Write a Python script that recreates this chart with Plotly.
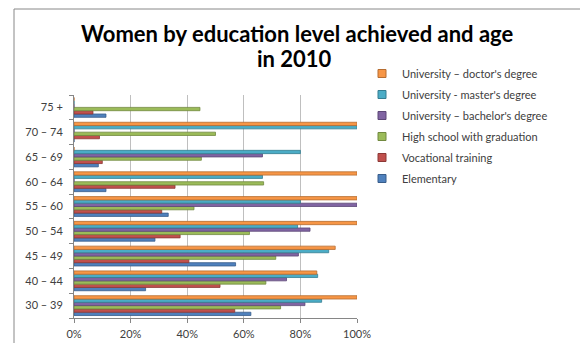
import plotly.graph_objects as go

# Age groups, bottom to top
age_groups = ["30 – 39", "40 – 44", "45 – 49", "50 – 54", "55 – 60",
              "60 – 64", "65 – 69", "70 – 74", "75 +"]

# Share of women (%) per education level, in the same order as age_groups
elementary = [62.5, 25.3, 57.1, 28.6, 33.3, 11.3, 8.6, 0, 11.3]
vocational = [56.8, 51.6, 40.6, 37.5, 31.0, 35.7, 10.0, 9.0, 6.7]
high_school = [73.0, 67.8, 71.3, 62.0, 42.4, 67.0, 45.0, 50.0, 44.5]
bachelor = [81.6, 75.1, 79.3, 83.4, 100, 0, 66.6, 0, 0]
master = [87.5, 86.1, 90.0, 79.0, 80.0, 66.6, 80.0, 100, 0]
doctor = [100, 85.8, 92.3, 100, 100, 100, 0, 100, 0]

series = [
    ("Elementary", elementary, "#4F81BD", "#385D8A"),
    ("Vocational training", vocational, "#C0504D", "#8C3836"),
    ("High school with graduation", high_school, "#9BBB59", "#71893F"),
    ("University – bachelor's degree", bachelor, "#8064A2", "#5C4776"),
    ("University - master's degree", master, "#4BACC6", "#357D91"),
    ("University – doctor's degree", doctor, "#F79646", "#B66D31"),
]

W, H = 580, 343
L, R, T, B = 74, 223, 95, 25
PW, PH = W - L - R, H - T - B


def px_x(px):
    return (px - L) / PW


def px_y(py):
    return 1 + (T - py) / PH


fig = go.Figure()
for name, vals, col, edge in series:
    fig.add_trace(go.Bar(
        y=age_groups, x=vals, name=name, orientation="h",
        marker=dict(color=col, line=dict(color=edge, width=0.8)),
        showlegend=False,
    ))

# small square legend keys, listed from the top series down
for i, (name, vals, col, edge) in enumerate(reversed(series)):
    fig.add_trace(go.Scatter(
        x=[None], y=[None], mode="markers", name=name,
        marker=dict(symbol="square", size=8, color=col,
                    line=dict(color=edge, width=1)),
        legendgroup=f"k{i}", showlegend=True,
    ))

font = "Lato, 'Open Sans', sans-serif"

fig.update_layout(
    width=W, height=H,
    margin=dict(l=L, r=R, t=T, b=B, autoexpand=False),
    paper_bgcolor="white", plot_bgcolor="white",
    barmode="group", bargap=0.2, bargroupgap=0,
    font=dict(family=font, size=11, color="#404040"),
    showlegend=True,
    legend=dict(
        x=px_x(362), y=px_y(59), xanchor="left", yanchor="top",
        traceorder="grouped", tracegroupgap=2,
        font=dict(size=11, color="#404040"),
        bgcolor="rgba(0,0,0,0)",
    ),
    xaxis=dict(
        range=[0, 100], tickvals=[0, 20, 40, 60, 80, 100],
        ticktext=["0%", "20%", "40%", "60%", "80%", "100%"],
        showgrid=True, gridcolor="#BFBFBF", gridwidth=1,
        showline=True, linecolor="#868686", linewidth=1,
        ticks="outside", ticklen=4, tickcolor="#868686",
        zeroline=False, fixedrange=True, ticklabelstandoff=2,
        automargin=False,
    ),
    yaxis=dict(
        showline=True, linecolor="#868686", linewidth=1,
        ticks="outside", ticklen=4, tickcolor="#868686",
        tickson="boundaries", showgrid=False, fixedrange=True,
        ticklabelstandoff=8, automargin=False,
    ),
    annotations=[
        dict(text="<b>Women by education level achieved and age</b>",
             xref="paper", yref="paper", x=px_x(297), y=px_y(33),
             xanchor="center", yanchor="middle", showarrow=False,
             font=dict(family=font, size=22, color="black")),
        dict(text="<b>in 2010</b>",
             xref="paper", yref="paper", x=px_x(294), y=px_y(59),
             xanchor="center", yanchor="middle", showarrow=False,
             font=dict(family=font, size=22, color="black")),
    ],
    shapes=[
        dict(type="rect", xref="paper", yref="paper",
             x0=px_x(14), x1=px_x(600), y0=px_y(360), y1=px_y(9),
             line=dict(color="#888888", width=1), layer="below"),
    ],
)

fig.write_html("out.html")
